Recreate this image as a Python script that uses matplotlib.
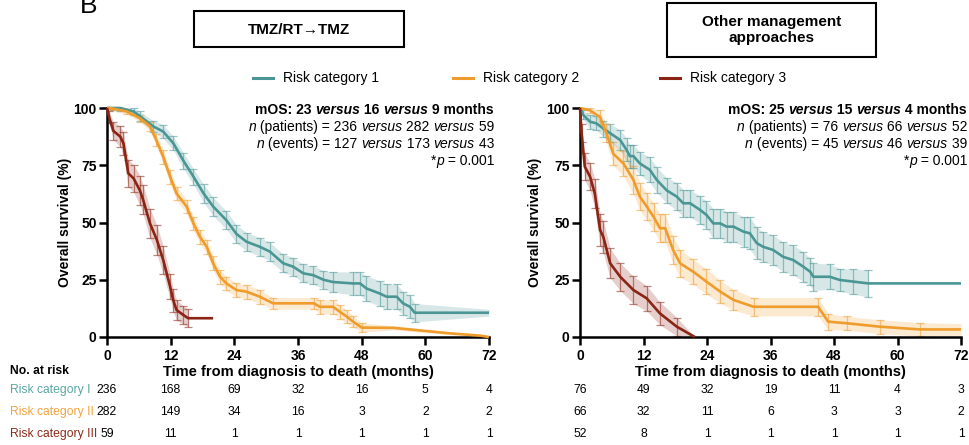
import numpy as np
import matplotlib
matplotlib.use('Agg')
import matplotlib.pyplot as plt
from matplotlib.lines import Line2D
from matplotlib.patches import Rectangle
from matplotlib import transforms

plt.rcParams['font.family'] = ['Liberation Sans', 'DejaVu Sans']

# ---------------- data ----------------
panel_titles = ["TMZ/RT\u2192TMZ", "Other management\napproaches"]
legend_labels = ["Risk category 1", "Risk category 2", "Risk category 3"]
row_labels = ["Risk category I", "Risk category II", "Risk category III"]
x_ticks = [0, 12, 24, 36, 48, 60, 72]
y_ticks = [0, 25, 50, 75, 100]

# TMZ/RT -> TMZ panel
tmz_r1_t = [0, 0.6, 2.5, 5, 6.2, 8.7, 10.6, 12.5, 14.4, 16.3, 18.2, 20, 22.5, 24.4, 26.3, 28.8, 30.7,
            33.2, 35.1, 37, 38.9, 40.8, 42.6, 46.4, 47.7, 48.9, 51.4, 52.7, 54.6, 55.8, 57.1, 58, 72]
tmz_r1_s = [100, 100, 100, 98.5, 96.5, 92, 89.7, 84.6, 77, 70, 62.7, 57, 51, 45, 41.6, 39.4, 37.3,
            32.2, 30.7, 27.8, 27, 25, 24, 23.4, 23.4, 21.2, 19, 17.6, 17.6, 14.7, 13.2, 10.6, 10.6]
tmz_r1_ci = [0, 1, 1.2, 1.5, 2, 2.5, 3, 3, 3.5, 3.5, 4, 4, 4, 4, 4, 4, 4,
             4, 4, 4, 4, 4, 4.5, 5, 5, 5.5, 5.5, 5.5, 5.5, 5, 5, 4, 1.5]

tmz_r2_t = [0, 0.5, 3.7, 6.2, 8.1, 9.3, 10.6, 11.9, 13.1, 15, 16.3, 17.5, 18.8, 20, 21.3, 22.5, 24.4,
            26.3, 28.8, 31.3, 39, 40.1, 42.6, 43.9, 45.2, 46.4, 48, 54, 58.4, 64.6, 70.3, 72]
tmz_r2_s = [100, 100, 98.5, 95.5, 92, 86, 78.7, 70, 62.7, 57, 49.6, 43.8, 39.4, 32.2, 26.3, 23.4, 20.5,
            19.8, 17.6, 14.7, 14.7, 13.2, 13.2, 11, 8.9, 6.7, 4.1, 4, 3, 1.6, 0.6, 0]
tmz_r2_ci = [0, 1, 1.2, 1.5, 2, 2.5, 3, 3, 3, 3, 3, 3, 3, 3, 3, 3, 3,
             3, 3, 2.5, 2.5, 3, 3, 3, 3, 2.5, 2, 0.9, 0.8, 0.6, 0.3, 0]

tmz_r3_t = [0, 0.4, 1.2, 2.5, 3.1, 4, 5, 6.2, 6.8, 8.1, 9.4, 10.6, 11.9, 12.5, 13.1, 14.4, 15.3, 20]
tmz_r3_s = [100, 96, 90, 87.5, 84.6, 71.5, 69.3, 64, 60, 49.6, 42.4, 33.6, 22, 16, 11.8, 9.6, 8.2, 8.2]
tmz_r3_ci = [0, 2.5, 4, 4.5, 5, 6, 6, 6.5, 6.5, 6.5, 6.5, 6, 5.5, 5, 4.5, 4, 4, np.nan]

# Other management approaches panel
oth_r1_t = [0, 0.6, 1.9, 3.1, 4.4, 5.7, 7.6, 8.8, 9.4, 10.1, 11.3, 13.2, 14.5, 16.4, 18.3, 19.5, 20.8,
            22.7, 23.9, 25.2, 26.5, 27.7, 29, 30.9, 32.1, 33.4, 34.6, 36.5, 38.4, 40.3, 42.2, 43.5, 44.1,
            47.2, 49.1, 51.6, 54.5, 72]
oth_r1_s = [100, 97, 94, 93.3, 91, 89, 86, 81.7, 79, 79, 75.8, 73, 68.6, 64, 61.3, 58.4, 58.4,
            55.5, 53.3, 49.6, 49.6, 48.2, 48.2, 46, 45.3, 41, 39.4, 38, 35, 33.6, 30.7, 28.5, 26.3,
            26.3, 24.9, 24.2, 23.4, 23.4]
oth_r1_ci = [0, 2, 3, 3, 3.5, 4, 4.5, 5, 5, 5, 5, 5.5, 5.5, 5.5, 6, 6, 6,
             6, 6, 6.5, 6.5, 6.5, 6.5, 6.5, 7, 7, 6.5, 6.5, 6.5, 6.5, 6.5, 6, 6,
             5.5, 5, 5.5, 6, np.nan]

oth_r2_t = [0, 1.9, 3.8, 5, 6.3, 8.2, 10.1, 11.3, 12.6, 13.9, 15.1, 16.1, 17.6, 18.9, 21.4, 23.9,
            26.5, 29, 32.8, 45, 46.9, 50.4, 56.7, 64.3, 72]
oth_r2_s = [100, 99, 96, 89, 80, 75.8, 68.6, 61.3, 57, 52.5, 47.5, 47.5, 38, 32.2, 28.5, 24.2,
            19.8, 16.2, 13.2, 13.2, 6.7, 6, 4.5, 3.3, 3.3]
oth_r2_ci = [0, 1, 3, 4, 5, 5.5, 6, 6, 6, 6, 6, 6, 6, 6, 5.5, 5.5,
             5, 4.5, 4, 4, 3.5, 3, 3, 3, 2.5]

oth_r3_t = [0, 0.3, 0.9, 1.9, 2.8, 3.8, 4.4, 5.7, 7.6, 10.1, 12.6, 15.1, 18.3, 21.7]
oth_r3_s = [100, 89, 74.4, 70, 62.7, 46.7, 43.8, 32.2, 26.3, 20.5, 16.9, 10.3, 4.5, 0]
oth_r3_ci = [0, 4, 6, 6, 6.5, 7, 7, 6.5, 6, 6, 5.5, 5, 4, 0]

# numbers at risk
tmz_risk_1 = [236, 168, 69, 32, 16, 5, 4]
tmz_risk_2 = [282, 149, 34, 16, 3, 2, 2]
tmz_risk_3 = [59, 11, 1, 1, 1, 1, 1]
oth_risk_1 = [76, 49, 32, 19, 11, 4, 3]
oth_risk_2 = [66, 32, 11, 6, 3, 3, 2]
oth_risk_3 = [52, 8, 1, 1, 1, 1, 1]

tmz_stats = [
    [("mOS: 23 ", "bold", "normal"), ("versus", "bold", "italic"), (" 16 ", "bold", "normal"),
     ("versus", "bold", "italic"), (" 9 months", "bold", "normal")],
    [("n", "normal", "italic"), (" (patients) = 236 ", "normal", "normal"), ("versus", "normal", "italic"),
     (" 282 ", "normal", "normal"), ("versus", "normal", "italic"), (" 59", "normal", "normal")],
    [("n", "normal", "italic"), (" (events) = 127 ", "normal", "normal"), ("versus", "normal", "italic"),
     (" 173 ", "normal", "normal"), ("versus", "normal", "italic"), (" 43", "normal", "normal")],
    [("*", "normal", "normal"), ("p", "normal", "italic"), (" = 0.001", "normal", "normal")],
]
oth_stats = [
    [("mOS: 25 ", "bold", "normal"), ("versus", "bold", "italic"), (" 15 ", "bold", "normal"),
     ("versus", "bold", "italic"), (" 4 months", "bold", "normal")],
    [("n", "normal", "italic"), (" (patients) = 76 ", "normal", "normal"), ("versus", "normal", "italic"),
     (" 66 ", "normal", "normal"), ("versus", "normal", "italic"), (" 52", "normal", "normal")],
    [("n", "normal", "italic"), (" (events) = 45 ", "normal", "normal"), ("versus", "normal", "italic"),
     (" 46 ", "normal", "normal"), ("versus", "normal", "italic"), (" 39", "normal", "normal")],
    [("*", "normal", "normal"), ("p", "normal", "italic"), (" = 0.001", "normal", "normal")],
]

# ---------------- style ----------------
COLORS = ['#4a9695', '#ef9c2c', '#8a2414']
LABEL_COLORS = ['#5aa7a6', '#f2a541', '#8f2c1c']

W, H = 969, 445
fig = plt.figure(figsize=(W / 100, H / 100), dpi=100)
renderer = fig.canvas.get_renderer()


def fx(px):
    return px / W


def fy(py):
    return 1 - py / H


def draw_curve(ax, t, s, ci, color):
    t = np.asarray(t, float)
    s = np.asarray(s, float)
    ci = np.asarray(ci, float)
    lo = np.clip(s - ci, 0, 100)
    hi = np.clip(s + ci, 0, 100)
    ax.fill_between(t, lo, hi, color=color, alpha=0.22, lw=0, zorder=1)
    idx = [i for i in range(1, len(t) - 1) if np.isfinite(ci[i]) and ci[i] >= 1]
    ax.errorbar(t[idx], s[idx], yerr=ci[idx], fmt='none', ecolor=color, alpha=0.55,
                elinewidth=0.9, capsize=3.2, capthick=0.9, zorder=2)
    ax.plot(t, s, color=color, lw=1.9, solid_joinstyle='round', solid_capstyle='butt',
            clip_on=False, zorder=5)


def setup(ax):
    ax.set_xlim(0, 72)
    ax.set_ylim(0, 100)
    ax.set_xticks(x_ticks)
    ax.set_yticks(y_ticks)
    for sp in ['top', 'right']:
        ax.spines[sp].set_visible(False)
    for sp in ['left', 'bottom']:
        ax.spines[sp].set_linewidth(1.8)
    ax.tick_params(direction='out', length=6, width=1.8, labelsize=10)
    ax.tick_params(axis='x', pad=2.5)
    ax.tick_params(axis='y', pad=1.5)
    for lab in ax.get_xticklabels() + ax.get_yticklabels():
        lab.set_fontweight('bold')
    ax.patch.set_visible(False)


def piece_width(s, **kw):
    t = fig.text(0, 0, '|' + s + '|', **kw)
    w1 = t.get_window_extent(renderer).width
    t.set_text('||')
    w2 = t.get_window_extent(renderer).width
    t.remove()
    return w1 - w2


def rich_right(x_right, y_base, parts, size):
    widths = [piece_width(s, fontsize=size, fontweight=w, fontstyle=st) for s, w, st in parts]
    x = x_right - sum(widths)
    for (s, w, st), wd in zip(parts, widths):
        fig.text(fx(x), fy(y_base), s, fontsize=size, fontweight=w, fontstyle=st,
                 ha='left', va='baseline')
        x += wd


ax1 = fig.add_axes([fx(107), fy(337), (489 - 107) / W, (337 - 108) / H])
ax2 = fig.add_axes([fx(580), fy(337), (961 - 580) / W, (337 - 108) / H])

for ax, curves in [
    (ax1, [(tmz_r1_t, tmz_r1_s, tmz_r1_ci), (tmz_r2_t, tmz_r2_s, tmz_r2_ci), (tmz_r3_t, tmz_r3_s, tmz_r3_ci)]),
    (ax2, [(oth_r1_t, oth_r1_s, oth_r1_ci), (oth_r2_t, oth_r2_s, oth_r2_ci), (oth_r3_t, oth_r3_s, oth_r3_ci)]),
]:
    setup(ax)
    for (t, s, ci), c in zip(curves, COLORS):
        draw_curve(ax, t, s, ci, c)

# axis labels
for cx, ylx in [(298, 65), (770.5, 535)]:
    fig.text(fx(cx), fy(372), "Time from diagnosis to death (months)", ha='center', va='center',
             fontsize=10.5, fontweight='bold')
    fig.text(fx(ylx), fy(222), "Overall survival (%)", ha='center', va='center', rotation=90,
             fontsize=10, fontweight='bold')

# panel letter (cropped at the top edge, as in the source figure)
fig.text(fx(80), fy(13), "B", fontsize=19, ha='left', va='baseline')

# title boxes
fig.add_artist(Rectangle((fx(194), fy(47)), (404 - 194) / W, (47 - 11) / H, transform=fig.transFigure,
                         fill=False, lw=1.5, ec='black'))
fig.text(fx(299), fy(30), panel_titles[0], ha='center', va='center', fontsize=11, fontweight='bold')
fig.add_artist(Rectangle((fx(667), fy(57)), (876 - 667) / W, (57 - 3) / H, transform=fig.transFigure,
                         fill=False, lw=1.5, ec='black'))
fig.text(fx(771.5), fy(30), panel_titles[1], ha='center', va='center', fontsize=11, fontweight='bold',
         linespacing=1.15)

# legend
for (x0, x1, xt), lab, c in zip([(253, 273, 283), (453, 473, 483), (660, 680, 690)], legend_labels, COLORS):
    fig.add_artist(Line2D([fx(x0), fx(x1)], [fy(78), fy(78)], transform=fig.transFigure, color=c, lw=2.2))
    fig.text(fx(xt), fy(78), lab, ha='left', va='center', fontsize=10)

# stats annotations
for x_right, lines in [(494, tmz_stats), (967, oth_stats)]:
    for i, parts in enumerate(lines):
        rich_right(x_right, 114 + i * 17, parts, 10)

# risk table
fig.text(fx(10), fy(371), "No. at risk", ha='left', va='center', fontsize=8.7, fontweight='bold')
rows_y = [390, 412, 434]
for lab, c, yy in zip(row_labels, LABEL_COLORS, rows_y):
    fig.text(fx(10), fy(yy), lab, ha='left', va='center', fontsize=8.7, color=c)
for ax, rows in [(ax1, [tmz_risk_1, tmz_risk_2, tmz_risk_3]), (ax2, [oth_risk_1, oth_risk_2, oth_risk_3])]:
    tr = transforms.blended_transform_factory(ax.transData, fig.transFigure)
    for vals, yy in zip(rows, rows_y):
        for xt, v in zip(x_ticks, vals):
            fig.text(xt, fy(yy), str(v), transform=tr, ha='center', va='center', fontsize=8.7)

fig.savefig('out.png', dpi=100)
